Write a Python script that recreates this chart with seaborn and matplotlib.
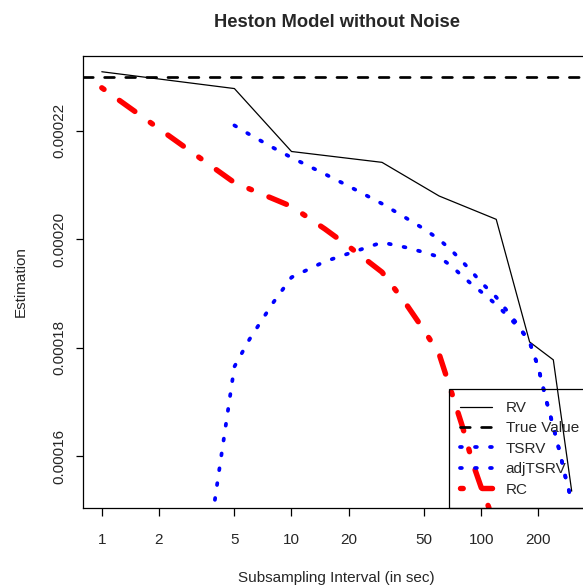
import matplotlib
matplotlib.use("Agg")
import matplotlib.pyplot as plt
import seaborn as sns
import pandas as pd

# Subsampling intervals (seconds) and estimates for each estimator
rv_interval = [1, 5, 10, 30, 60, 120, 180, 240, 300]
rv_estimate = [2.309e-4, 2.278e-4, 2.162e-4, 2.142e-4, 2.080e-4, 2.037e-4,
               1.811e-4, 1.778e-4, 1.536e-4]

true_value = 2.30e-4

tsrv_interval = [5, 6, 8, 10, 15, 20, 30, 40, 50, 60, 70, 80, 90, 100,
                 120, 140, 160, 180, 200, 220, 240, 260, 280, 300]
tsrv_estimate = [2.2101e-4, 2.1935e-4, 2.1690e-4, 2.1508e-4, 2.1204e-4,
                 2.0982e-4, 2.0658e-4, 2.0398e-4, 2.0192e-4, 2.0000e-4,
                 1.9792e-4, 1.9582e-4, 1.9390e-4, 1.9207e-4, 1.8936e-4,
                 1.8638e-4, 1.8374e-4, 1.8107e-4, 1.7641e-4, 1.7042e-4,
                 1.6549e-4, 1.6066e-4, 1.5576e-4, 1.5174e-4]

adj_interval = [3, 4, 5, 6, 8, 10, 15, 20, 30, 40, 50, 60, 70, 80, 90, 100,
                120, 140, 160, 180, 200, 220, 240, 260, 280, 300]
adj_estimate = [1.220e-4, 1.5346e-4, 1.7655e-4, 1.8157e-4, 1.8833e-4,
                1.9301e-4, 1.9593e-4, 1.9740e-4, 1.9945e-4, 1.9853e-4,
                1.9762e-4, 1.9677e-4, 1.9502e-4, 1.9316e-4, 1.9161e-4,
                1.9034e-4, 1.8800e-4, 1.8566e-4, 1.8352e-4, 1.8107e-4,
                1.7641e-4, 1.7042e-4, 1.6549e-4, 1.6066e-4, 1.5576e-4,
                1.5174e-4]

rc_interval = [1, 5, 10, 15, 20, 30, 40, 50, 60, 70, 80, 90, 100, 120]
rc_estimate = [2.2794e-4, 2.1047e-4, 2.0608e-4, 2.0192e-4, 1.9873e-4,
               1.9397e-4, 1.8820e-4, 1.8325e-4, 1.7889e-4, 1.7165e-4,
               1.6529e-4, 1.5889e-4, 1.5429e-4, 1.470e-4]

x_ticks = [1, 2, 5, 10, 20, 50, 100, 200]
y_ticks = [0.00016, 0.00018, 0.00020, 0.00022]
y_tick_labels = ["0.00016", "0.00018", "0.00020", "0.00022"]

sns.set_style("ticks")
plt.rcParams["font.family"] = ["Liberation Sans", "DejaVu Sans"]
plt.rcParams["font.size"] = 11

W, H = 583, 588
fig = plt.figure(figsize=(W / 100, H / 100), dpi=100)
left, right, top, bottom = 83, 590.5, 56, 508
ax = fig.add_axes([left / W, (H - bottom) / H, (right - left) / W, (bottom - top) / H])

rv_df = pd.DataFrame({"interval": rv_interval, "estimate": rv_estimate})
tsrv_df = pd.DataFrame({"interval": tsrv_interval, "estimate": tsrv_estimate})
adj_df = pd.DataFrame({"interval": adj_interval, "estimate": adj_estimate})
rc_df = pd.DataFrame({"interval": rc_interval, "estimate": rc_estimate})

sns.lineplot(data=rv_df, x="interval", y="estimate", ax=ax, color="black",
             linewidth=0.9, estimator=None, sort=False, label="RV")
ax.axhline(true_value, color="black", linewidth=1.95, dashes=(3.6, 4.2),
           dash_capstyle="round", label="True Value")
sns.lineplot(data=tsrv_df, x="interval", y="estimate", ax=ax, color="blue",
             linewidth=2.7, estimator=None, sort=False, label="TSRV",
             dashes=False)
sns.lineplot(data=adj_df, x="interval", y="estimate", ax=ax, color="blue",
             linewidth=2.7, estimator=None, sort=False, label="adjTSRV",
             dashes=False)
sns.lineplot(data=rc_df, x="interval", y="estimate", ax=ax, color="red",
             linewidth=3.9, estimator=None, sort=False, label="RC",
             dashes=False)

for ln in ax.get_lines():
    lab = ln.get_label()
    if lab in ("TSRV", "adjTSRV"):
        ln.set_dashes((0.5, 3.5))
        ln.set_dash_capstyle("round")
    elif lab == "RC":
        ln.set_dashes((0.5, 3.5, 3.5, 3.5))
        ln.set_dash_capstyle("round")

ax.set_xscale("log")
ax.set_xlim(10 ** -0.0991, 10 ** 2.5762)
ax.set_ylim(0.0001505, 0.0002338)

ax.set_xticks(x_ticks)
ax.set_xticklabels([str(t) for t in x_ticks])
ax.xaxis.set_minor_locator(matplotlib.ticker.NullLocator())
ax.set_yticks(y_ticks)
ax.set_yticklabels(y_tick_labels, rotation=90, va="center")

for s in ax.spines.values():
    s.set_visible(True)
    s.set_linewidth(0.9)
    s.set_color("black")
ax.tick_params(axis="x", direction="out", length=6, width=0.9, pad=12,
               labelsize=11, color="black")
ax.tick_params(axis="y", direction="out", length=5, width=0.9, pad=7,
               labelsize=11, color="black")

ax.set_xlabel("Subsampling Interval (in sec)", fontsize=11, labelpad=17)
ax.set_ylabel("Estimation", fontsize=11, labelpad=18)
ax.set_title("Heston Model without Noise", fontsize=13.2, fontweight="bold",
             pad=21)

leg = ax.legend(loc="lower right", bbox_to_anchor=(1, 0), borderaxespad=0,
                frameon=True, fancybox=False, edgecolor="black",
                fontsize=11, handlelength=2.1, handletextpad=0.9,
                borderpad=0.75, labelspacing=0.42)
frame = leg.get_frame()
frame.set_linewidth(0.9)
frame.set_facecolor("none")
frame.set_edgecolor("black")
frame.set_alpha(None)

fig.savefig("out.png", dpi=100, facecolor="white")
